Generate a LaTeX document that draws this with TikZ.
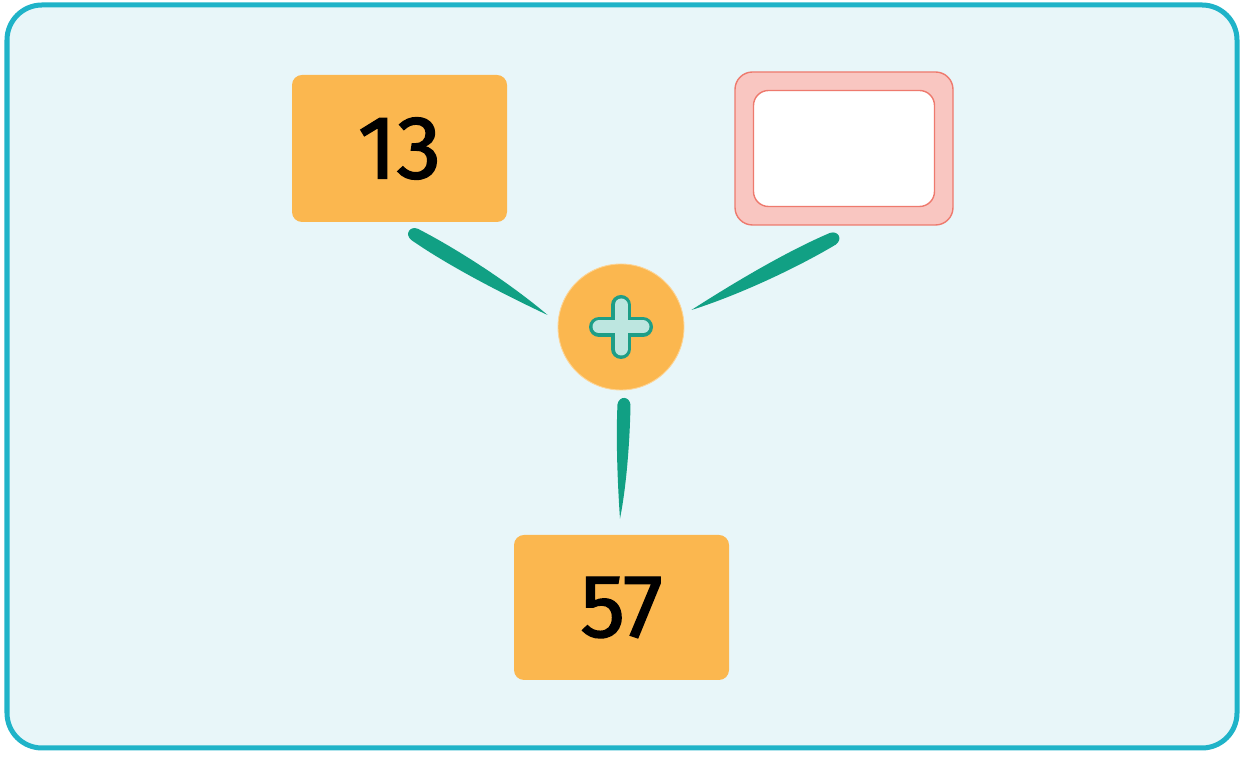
\documentclass[tikz,border=0pt]{standalone}
\usepackage{xcolor}
\usepackage{tikz}
\usepackage{fontspec}
\setmainfont{Fira Sans}
\newfontfamily\digitfont[FakeBold=1.6]{Fira Sans}
\usetikzlibrary{positioning, calc}

\definecolor{frameblue}{HTML}{1FB3C8}
\definecolor{framebg}{HTML}{E8F6F9}
\definecolor{boxorange}{HTML}{FBB74F}
\definecolor{pinkfill}{HTML}{F9C6C1}
\definecolor{pinkline}{HTML}{EE7A6E}
\definecolor{brushgreen}{HTML}{11A084}
\definecolor{plusline}{HTML}{1E9E87}
\definecolor{plusfill}{HTML}{BDE6E0}

% tapered brush stroke, thick end first
\newcommand{\brush}[2]{%
  \fill[brushgreen] ($(#1)!0.13cm!90:(#2)$)
    .. controls ($(#1)!0.3!12:(#2)$) and ($(#1)!0.7!4:(#2)$) .. (#2)
    .. controls ($(#2)!0.3!6:(#1)$) and ($(#2)!0.7!5:(#1)$) .. ($(#1)!0.13cm!-90:(#2)$)
    .. controls ($(#1)!0.2cm!-150:(#2)$) and ($(#1)!0.2cm!150:(#2)$) .. ($(#1)!0.13cm!90:(#2)$) -- cycle;}

\begin{document}
\begin{tikzpicture}[
    numbox/.style={rectangle, rounded corners=0.2cm, fill=boxorange, minimum width=4.3cm, minimum height=2.94cm, font=\digitfont\fontsize{51}{51}\selectfont}
]
    \useasboundingbox (0,0) rectangle (25.16,15.16);
    % frame
    \draw[frameblue, fill=framebg, line width=0.1cm, rounded corners=0.7cm] (0.14,0.2) rectangle (24.74,15.06);

    % boxes
    \node[numbox] (n13) at (7.99,12.19) {13};
    \node[numbox, minimum height=2.9cm] (n57) at (12.43,3.01) {57};
    \node[rectangle, rounded corners=0.35cm, fill=pinkfill, draw=pinkline, line width=0.8pt, minimum width=4.36cm, minimum height=3.06cm] (blank) at (16.88,12.19) {};
    \node[rectangle, rounded corners=0.3cm, fill=white, draw=pinkline, line width=0.8pt, minimum width=3.62cm, minimum height=2.32cm] (blankin) at (blank) {};

    % plus sign
    \node[circle, fill=boxorange, draw=boxorange!60!white, line width=0.5pt, minimum size=2.52cm] (plus) at (12.42,8.62) {};
    \draw[plusline, line width=0.4cm, line cap=round] ($(plus)+(-0.44,0)$) -- ($(plus)+(0.44,0)$);
    \draw[plusline, line width=0.4cm, line cap=round] ($(plus)+(0,-0.44)$) -- ($(plus)+(0,0.44)$);
    \draw[plusfill, line width=0.26cm, line cap=round] ($(plus)+(-0.44,0)$) -- ($(plus)+(0.44,0)$);
    \draw[plusfill, line width=0.26cm, line cap=round] ($(plus)+(0,-0.44)$) -- ($(plus)+(0,0.44)$);

    % brush strokes
    \coordinate (s1) at ($(n13.south)+(0.3,-0.24)$);
    \coordinate (e1) at ($(plus.west)+(-0.2,0.24)$);
    \coordinate (s2) at ($(blank.south)+(-0.22,-0.26)$);
    \coordinate (e2) at ($(plus.east)+(0.14,0.34)$);
    \coordinate (s3) at ($(plus.south)+(0.06,-0.28)$);
    \coordinate (e3) at ($(n57.north)+(-0.03,0.32)$);
    \brush{s1}{e1}
    \brush{s2}{e2}
    \brush{s3}{e3}
\end{tikzpicture}
\end{document}
